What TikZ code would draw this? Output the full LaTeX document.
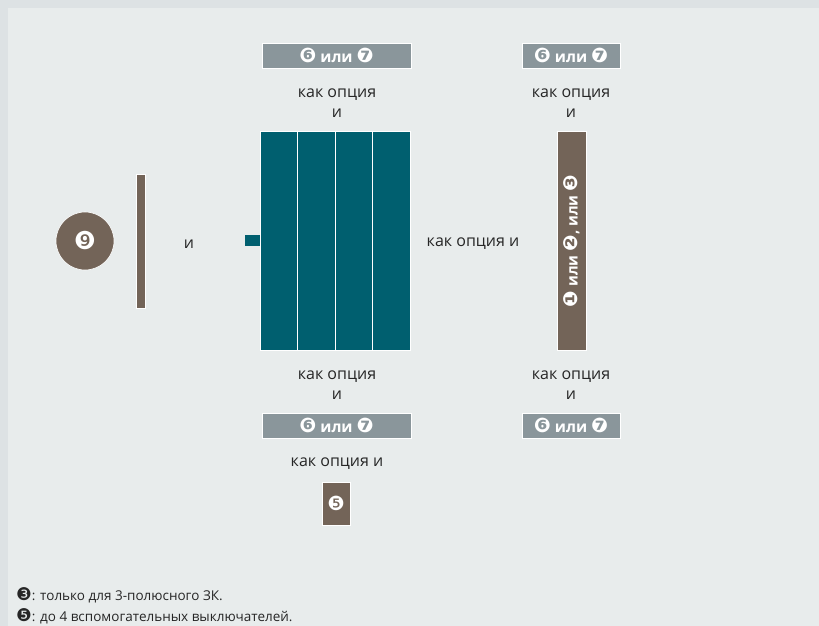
\documentclass[tikz,border=0pt]{standalone}
\usepackage{fontspec}
\setmainfont{Open Sans}
\newfontfamily\dingfont[Scale=1.3]{DejaVu Sans}

\definecolor{PageColor}{HTML}{E8ECEC}
\definecolor{FrameColor}{HTML}{DDE2E4}
\definecolor{OptColor}{HTML}{8A969B}
\definecolor{BreakerColor}{HTML}{005F6F}
\definecolor{PartColor}{HTML}{736458}

\newcommand{\dg}[1]{{\dingfont #1}}

\tikzset{
  optbox/.style={fill=OptColor, draw=white, line width=0.8pt, minimum width=149pt,
    minimum height=25pt, inner sep=0pt, text=white, font=\fontsize{15.5}{15.5}\selectfont\bfseries},
  smallopt/.style={optbox, minimum width=98pt},
  label/.style={font=\fontsize{16}{20}\selectfont, text=black!85, align=center, inner sep=0pt},
  note/.style={font=\fontsize{13.5}{14}\selectfont, text=black!85, anchor=west, inner sep=0pt},
  partfill/.style={fill=PartColor, draw=white, line width=0.6pt}
}

\begin{document}
\begin{tikzpicture}[x=1pt,y=-1pt]

  %–– Fondo ––
  \fill[FrameColor] (0,0) rectangle (819,626);
  \fill[PageColor] (8,8) rectangle (819,626);
  \useasboundingbox (0,0) rectangle (819,626);

  %–– Parámetros del bloque ––
  \def\blockL{260}
  \def\blockR{410}
  \def\blockT{131}
  \def\blockB{350}

  %–– Accesorios arriba ––
  \node[optbox] (optTopL) at (336.5,55.5) {\dg{❻} или \dg{❼}};
  \node[smallopt] (optTopR) at (571,55.5) {\dg{❻} или \dg{❼}};
  \node[label] (txtTopL) at (337,103) {как опция\\и};
  \node[label] (txtTopR) at (571,103) {как опция\\и};

  %–– Interruptor (4 polos) ––
  \fill[BreakerColor] (245,234.5) rectangle (\blockL,245.5);
  \foreach \i in {0,...,3}{
    \filldraw[fill=BreakerColor, draw=white, line width=0.8pt]
      ({\blockL+\i*37.5},\blockT) rectangle ({\blockL+(\i+1)*37.5},\blockB);
  }
  \coordinate (breaker) at ({(\blockL+\blockR)/2},{(\blockT+\blockB)/2});

  %–– Pieza derecha con texto girado ––
  \filldraw[partfill] (557,131) rectangle (586,350);
  \node[rotate=90, text=white, font=\fontsize{15}{15}\selectfont\bfseries, inner sep=0pt]
    (relPart) at (571.5,241) {\dg{❶} или \dg{❷}, или \dg{❸}};

  %–– Izquierda ––
  \node[circle, fill=PartColor, draw=white, line width=0.6pt, minimum size=58pt, inner sep=0pt,
    text=white, font=\fontsize{19}{19}\selectfont] (drive) at (85,241) {\dg{❾}};
  \filldraw[partfill] (136,174) rectangle (145,308);
  \node[label] (andLeft) at (189,244) {и};
  \node[label] (andRight) at (473,244) {как опция и};

  %–– Accesorios abajo ––
  \node[label] (txtBotL) at (337,385) {как опция\\и};
  \node[label] (txtBotR) at (571,385) {как опция\\и};
  \node[optbox] (optBotL) at (336.5,425.5) {\dg{❻} или \dg{❼}};
  \node[smallopt] (optBotR) at (571,425.5) {\dg{❻} или \dg{❼}};
  \node[label] (txtAux) at (337,464) {как опция и};
  \node[rectangle, fill=PartColor, draw=white, line width=0.6pt, minimum width=28pt,
    minimum height=43pt, inner sep=0pt, text=white, font=\fontsize{15}{15}\selectfont]
    (auxSw) at (336,503.5) {\dg{❺}};

  %–– Notas ––
  \node[note] (note3) at (16,595) {\dg{❸}: только для 3-полюсного ЗК.};
  \node[note] (note5) at (16,616) {\dg{❺}: до 4 вспомогательных выключателей.};

\end{tikzpicture}
\end{document}
